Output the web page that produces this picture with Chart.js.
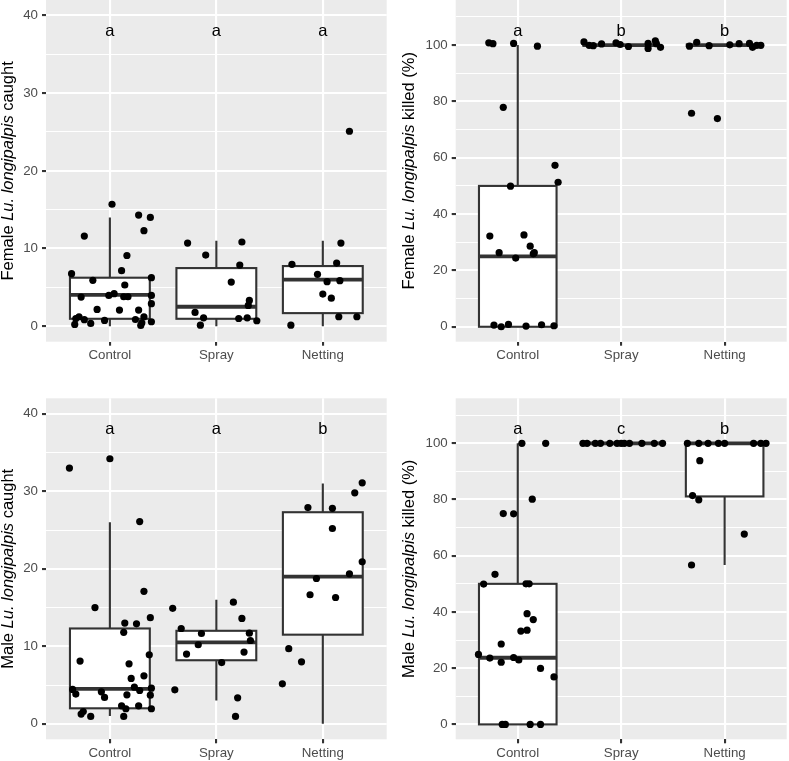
<!DOCTYPE html>
<html>
<head>
<meta charset="utf-8">
<script src="https://cdn.jsdelivr.net/npm/chart.js@4.4.1/dist/chart.umd.min.js"></script>
<style>
  body { margin: 0; background: #fff; }
  #wrap { position: relative; width: 789px; height: 761px; }
  canvas { position: absolute; }
</style>
</head>
<body>
<div id="wrap">
  <canvas id="c1" width="395" height="370" style="left:0;top:0"></canvas>
  <canvas id="c2" width="394" height="370" style="left:395px;top:0"></canvas>
  <canvas id="c3" width="395" height="391" style="left:0;top:370px"></canvas>
  <canvas id="c4" width="394" height="391" style="left:395px;top:370px"></canvas>
</div>
<script>
// ---------- data ----------
const categories = ["Control", "Spray", "Netting"];
const catPos = [1, 2, 3];

const countTicks = [0, 10, 20, 30, 40];
const countMinor = [5, 15, 25, 35];
const pctTicks = [0, 20, 40, 60, 80, 100];
const pctMinor = [10, 30, 50, 70, 90, 110];

// jittered points as [x, y]
const femCaughtControl = [[1.02,15.7],[1.27,14.3],[1.38,14.0],[0.76,11.6],[1.32,12.3],[1.16,9.1],[1.11,7.15],[0.64,6.76],[1.39,6.24],[0.84,5.9],[1.14,5.3],[0.73,3.75],[0.99,3.96],[1.04,4.18],[1.13,3.79],[1.17,3.79],[1.39,3.96],[1.39,2.89],[0.88,2.15],[1.09,2.07],[1.27,2.07],[0.71,1.21],[0.68,0.99],[0.76,0.83],[0.67,0.22],[0.82,0.35],[0.95,0.74],[1.24,0.86],[1.32,1.21],[1.30,0.44],[1.29,0.09],[1.39,0.57]];
const femCaughtSpray = [[1.73,10.7],[1.90,9.16],[2.24,10.84],[2.22,7.87],[2.14,5.68],[2.31,3.32],[2.30,2.67],[1.80,1.77],[1.88,1.08],[1.85,0.13],[2.21,0.99],[2.29,1.08],[2.38,0.70]];
const femCaughtNetting = [[3.25,25.1],[3.17,10.7],[2.71,7.96],[3.13,8.13],[2.95,6.67],[3.04,5.73],[3.16,5.86],[3.00,4.13],[3.08,3.61],[3.15,1.21],[3.32,1.21],[2.70,0.13]];

const femKilledControl = [[1.36,57.3],[1.39,51.3],[0.93,49.9],[0.73,32.2],[1.06,32.6],[1.12,28.6],[0.82,26.3],[1.15,25.9],[1.16,26.3],[0.98,24.4],[0.77,0.6],[0.84,0],[0.91,0.84],[1.08,0.25],[1.23,0.71],[1.35,0.36],[0.72,100.8],[0.76,100.5],[0.96,100.6],[1.19,99.6],[0.86,77.9]];
const femKilledSpray = [[1.64,101.1],[1.69,99.9],[1.73,99.8],[1.81,100.4],[1.95,100.8],[1.99,100.2],[2.07,99.5],[2.26,100.6],[2.26,98.8],[2.33,101.5],[2.34,100.5],[2.38,99.2]];
const femKilledNetting = [[2.66,99.6],[2.73,101.0],[2.85,99.8],[3.05,100.1],[3.14,100.5],[3.24,100.6],[3.27,99.2],[3.31,99.9],[3.35,99.9],[2.68,75.8],[2.93,73.9]];

const maleCaughtControl = [[1.32,17.1],[0.86,15.0],[1.38,13.7],[1.14,13.0],[1.25,12.9],[1.13,11.8],[0.72,8.1],[1.37,8.9],[1.18,7.74],[1.20,5.85],[1.32,6.19],[1.23,4.73],[1.28,4.3],[1.39,4.6],[0.65,4.43],[0.68,3.83],[0.92,4.13],[0.95,3.4],[1.16,3.74],[1.38,3.7],[1.11,2.32],[1.15,1.94],[1.27,2.32],[1.39,1.94],[0.75,1.59],[0.73,1.25],[0.82,0.95],[1.13,0.95],[0.62,33.0],[1.00,34.2],[1.28,26.1]];
const maleCaughtSpray = [[1.59,14.9],[2.16,15.7],[2.24,13.6],[1.67,12.3],[1.86,11.65],[2.31,11.7],[2.32,10.75],[1.83,10.2],[1.72,9.0],[2.26,9.25],[2.05,7.9],[1.61,4.39],[2.20,3.35],[2.18,0.95]];
const maleCaughtNetting = [[3.37,31.1],[3.30,29.8],[2.86,27.9],[3.09,27.8],[3.09,25.2],[3.37,20.9],[3.25,19.35],[2.94,18.75],[2.88,16.65],[3.12,16.3],[2.68,9.7],[2.80,8.0],[2.62,5.16]];

const maleKilledControl = [[0.78,53.4],[0.67,49.9],[1.08,50.0],[1.11,50.0],[1.09,39.4],[1.15,37.3],[1.03,33.2],[1.09,33.5],[0.84,28.6],[0.62,24.9],[0.73,23.6],[0.84,22.1],[0.96,23.8],[1.01,22.9],[1.22,19.9],[1.35,16.9],[0.85,0],[0.88,0],[1.12,0],[1.22,0],[1.04,100],[1.27,100],[0.86,75.0],[0.96,74.9],[1.14,80.1]];
const maleKilledSpray = [[1.63,100],[1.67,100],[1.75,100],[1.80,100],[1.89,100],[1.96,100],[2.00,100],[2.03,100],[2.08,100],[2.20,100],[2.32,100],[2.40,100]];
const maleKilledNetting = [[2.64,100],[2.75,100],[2.84,100],[2.94,100],[3.00,100],[3.28,100],[3.35,100],[3.40,100],[2.76,93.8],[2.69,81.4],[2.75,79.9],[3.19,67.7],[2.68,56.7]];

// box stats: [lower whisker, q1, median, q3, upper whisker]
const femCaughtBoxes = [[0,0.95,4.04,6.24,14],[0,0.95,2.5,7.48,11],[0,1.68,6,7.74,11]];
const femKilledBoxes = [[0,0,25,50,100],[100,100,100,100,100],[100,100,100,100,100]];
const maleCaughtBoxes = [[1,2,4.5,12.3,26],[3,8.2,10.5,12,16],[0,11.5,19,27.3,31]];
const maleKilledBoxes = [[0,0,23.7,50,100],[100,100,100,100,100],[56.7,81.1,100,100,100]];

// significance letters
const femCaughtLetters = ["a", "a", "a"];
const femKilledLetters = ["a", "b", "b"];
const maleCaughtLetters = ["a", "a", "b"];
const maleKilledLetters = ["a", "c", "b"];
const countLetterY = 38;
const pctLetterY = 105;

// ---------- drawing ----------
const FONT = '"Liberation Sans", Arial, Helvetica, sans-serif';
const BOX_W = 0.75;

function panelPlugin(cfg) {
  return {
    id: "panel_" + cfg.id,
    beforeDraw(chart) {
      const { ctx, chartArea: a } = chart;
      ctx.save();
      ctx.fillStyle = "#EBEBEB";
      ctx.fillRect(a.left, a.top, a.width, a.height);
      ctx.restore();
    },
    beforeDatasetsDraw(chart) {
      const { ctx } = chart;
      const xs = chart.scales.x, ys = chart.scales.y;
      ctx.save();
      ctx.strokeStyle = "#333333";
      cfg.boxes.forEach((b, i) => {
        const xc = xs.getPixelForValue(catPos[i]);
        const xl = xs.getPixelForValue(catPos[i] - BOX_W / 2);
        const xr = xs.getPixelForValue(catPos[i] + BOX_W / 2);
        const [lo, q1, med, q3, hi] = b.map(v => ys.getPixelForValue(v));
        ctx.lineWidth = 2.1;
        ctx.beginPath();
        ctx.moveTo(xc, q3); ctx.lineTo(xc, hi);
        ctx.moveTo(xc, q1); ctx.lineTo(xc, lo);
        ctx.stroke();
        ctx.fillStyle = "#FFFFFF";
        ctx.fillRect(xl, q3, xr - xl, q1 - q3);
        ctx.strokeRect(xl, q3, xr - xl, q1 - q3);
        ctx.lineWidth = 3.8;
        ctx.beginPath();
        ctx.moveTo(xl, med); ctx.lineTo(xr, med);
        ctx.stroke();
      });
      ctx.restore();
    },
    afterDatasetsDraw(chart) {
      const { ctx } = chart;
      const xs = chart.scales.x, ys = chart.scales.y;
      ctx.save();
      ctx.fillStyle = "#000";
      ctx.font = "16.5px " + FONT;
      ctx.textAlign = "center";
      ctx.textBaseline = "middle";
      cfg.letters.forEach((l, i) => {
        ctx.fillText(l, xs.getPixelForValue(catPos[i]), ys.getPixelForValue(cfg.letterY));
      });
      ctx.restore();
    },
    afterDraw(chart) {
      const { ctx, chartArea: a } = chart;
      ctx.save();
      ctx.fillStyle = "#000";
      ctx.textBaseline = "alphabetic";
      ctx.textAlign = "left";
      ctx.translate(cfg.titleX, (a.top + a.bottom) / 2);
      ctx.rotate(-Math.PI / 2);
      const fontFor = p => (p.italic ? "italic " : "") + "16.5px " + FONT;
      let total = 0;
      cfg.title.forEach(p => { ctx.font = fontFor(p); total += ctx.measureText(p.text).width; });
      let x = -total / 2;
      cfg.title.forEach(p => {
        ctx.font = fontFor(p);
        ctx.fillText(p.text, x, 0);
        x += ctx.measureText(p.text).width;
      });
      ctx.restore();
    }
  };
}

function makeChart(cfg) {
  const major = cfg.major, minor = cfg.minor;
  const isMajor = c => c && c.tick && major.includes(c.tick.value);
  const datasets = cfg.groups.map(g => ({
    data: g.map(p => ({ x: p[0], y: p[1] })),
    pointRadius: 3.6,
    pointHoverRadius: 3.6,
    pointBackgroundColor: "#000",
    pointBorderWidth: 0
  }));
  return new Chart(document.getElementById(cfg.id), {
    type: "scatter",
    data: { datasets },
    options: {
      responsive: false,
      animation: false,
      events: [],
      layout: { autoPadding: false, padding: { left: 0, top: cfg.padTop, right: cfg.padRight, bottom: 0 } },
      plugins: { legend: { display: false }, tooltip: { enabled: false } },
      scales: {
        x: {
          type: "linear",
          min: 0.4,
          max: 3.6,
          afterBuildTicks: s => { s.ticks = catPos.map(v => ({ value: v })); },
          afterFit: s => { s.height = cfg.xHeight; s.paddingLeft = 0; s.paddingRight = 0; },
          ticks: {
            callback: v => categories[catPos.indexOf(v)] || "",
            color: "#4D4D4D",
            font: { family: FONT, size: 13.3 },
            padding: 2,
            maxRotation: 0,
            autoSkip: false
          },
          grid: { color: "#FFFFFF", lineWidth: 2.1, tickLength: 4, tickColor: "#333333", tickWidth: 2.1 },
          border: { display: false }
        },
        y: {
          type: "linear",
          min: cfg.range[0],
          max: cfg.range[1],
          afterBuildTicks: s => {
            s.ticks = major.concat(minor).sort((a, b) => a - b).map(v => ({ value: v }));
          },
          afterFit: s => { s.width = cfg.yWidth; s.paddingTop = 0; s.paddingBottom = 0; },
          ticks: {
            callback: v => (major.includes(v) ? String(v) : ""),
            color: "#4D4D4D",
            font: { family: FONT, size: 13.3 },
            padding: 4,
            autoSkip: false
          },
          grid: {
            color: "#FFFFFF",
            lineWidth: c => (isMajor(c) ? 2.1 : 1.07),
            tickLength: 4,
            tickColor: c => (isMajor(c) ? "#333333" : "rgba(0,0,0,0)"),
            tickWidth: 2.1
          },
          border: { display: false }
        }
      }
    },
    plugins: [panelPlugin(cfg)]
  });
}

makeChart({
  id: "c1", padTop: 0, padRight: 8.3, yWidth: 46, xHeight: 28.3, titleX: 12.5,
  range: [-2, 42], major: countTicks, minor: countMinor,
  groups: [femCaughtControl, femCaughtSpray, femCaughtNetting],
  boxes: femCaughtBoxes, letters: femCaughtLetters, letterY: countLetterY,
  title: [{ text: "Female " }, { text: "Lu. longipalpis", italic: true }, { text: " caught" }]
});
makeChart({
  id: "c2", padTop: 0, padRight: 2.3, yWidth: 60.7, xHeight: 28.3, titleX: 19,
  range: [-5.3, 116], major: pctTicks, minor: pctMinor,
  groups: [femKilledControl, femKilledSpray, femKilledNetting],
  boxes: femKilledBoxes, letters: femKilledLetters, letterY: pctLetterY,
  title: [{ text: "Female " }, { text: "Lu. longipalpis", italic: true }, { text: " killed (%)" }]
});
makeChart({
  id: "c3", padTop: 28.3, padRight: 8.3, yWidth: 46, xHeight: 21.7, titleX: 12.5,
  range: [-2, 42], major: countTicks, minor: countMinor,
  groups: [maleCaughtControl, maleCaughtSpray, maleCaughtNetting],
  boxes: maleCaughtBoxes, letters: maleCaughtLetters, letterY: countLetterY,
  title: [{ text: "Male " }, { text: "Lu. longipalpis", italic: true }, { text: " caught" }]
});
makeChart({
  id: "c4", padTop: 28.3, padRight: 2.3, yWidth: 60.7, xHeight: 21.7, titleX: 19,
  range: [-5.3, 116], major: pctTicks, minor: pctMinor,
  groups: [maleKilledControl, maleKilledSpray, maleKilledNetting],
  boxes: maleKilledBoxes, letters: maleKilledLetters, letterY: pctLetterY,
  title: [{ text: "Male " }, { text: "Lu. longipalpis", italic: true }, { text: " killed (%)" }]
});
</script>
</body>
</html>
